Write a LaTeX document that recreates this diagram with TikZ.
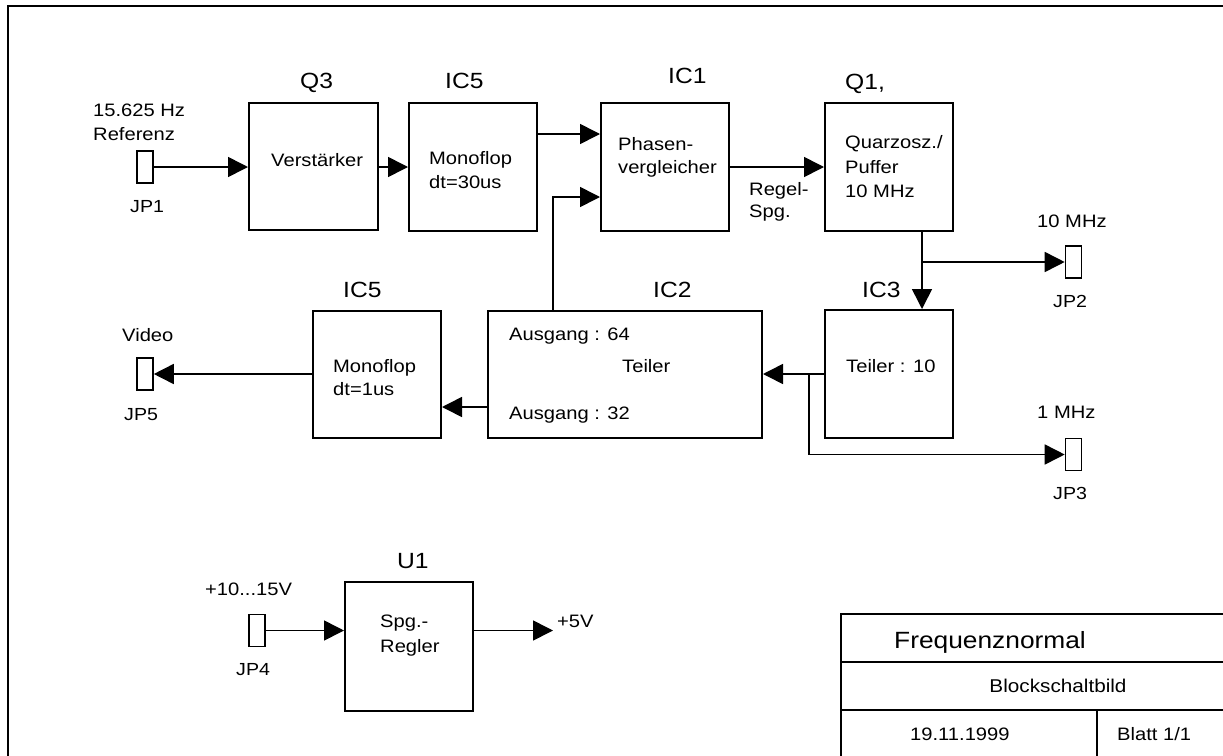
\documentclass[tikz,border=0pt]{standalone}
\usepackage{fontspec}
\setmainfont{Liberation Sans}[FakeStretch=1.12]
\usetikzlibrary{arrows.meta}
\tikzset{
  blk/.style={draw, line width=2pt, inner sep=0pt, minimum width=128pt, minimum height=128pt},
  jp/.style={draw, line width=1.6pt, inner sep=0pt, minimum width=16pt, minimum height=32pt},
  con/.style={line width=1.6pt},
  arr/.style={con, -{Triangle[length=20pt,width=20pt]}},
  txt/.style={anchor=base west, inner sep=0pt, font=\fontsize{18}{22}\selectfont},
  lbl/.style={anchor=base west, inner sep=0pt, font=\fontsize{22}{26}\selectfont},
  jpl/.style={anchor=base west, inner sep=0pt, font=\fontsize{17.5}{21}\selectfont},
}
\begin{document}
\begin{tikzpicture}[x=1pt,y=-1pt]
\useasboundingbox (0,0) rectangle (1223,755);
\clip (0,0) rectangle (1223,755);
\fill[white] (0,0) rectangle (1223,755);
% frame
\draw[line width=2.2pt] (8,6) rectangle (1260,790);

% blocks
\node[blk, minimum width=129pt, minimum height=127pt] (q3) at (313.5,166.5) {};
\node[blk] (ic5a) at (473,167) {};
\node[blk] (ic1) at (665,167) {};
\node[blk] (q1) at (889,167) {};
\node[blk] (ic3) at (889,374) {};
\node[blk, minimum width=274pt, minimum height=127pt] (ic2) at (625,374.5) {};
\node[blk, minimum height=127pt] (ic5b) at (377,374.5) {};
\node[blk, minimum height=129pt] (u1) at (409,646.5) {};

% connectors (jumpers)
\node[jp] (jp1) at (145,167) {};
\node[jp] (jp2) at (1073.5,262) {};
\node[jp] (jp3) at (1073.5,454.5) {};
\node[jp] (jp5) at (145,374) {};
\node[jp] (jp4) at (257,630.5) {};

% helper coordinates
\coordinate (fb) at (553,197);
\coordinate (j1) at (922,262);
\coordinate (j2) at (809,374);
\coordinate (out5) at (553,630.5);

% connectors
\draw[arr] (jp1.east) -- (jp1.east -| q3.west);
\draw[arr] (q3.east |- jp1.east) -- (ic5a.west);
\draw[arr] ([yshift=33pt]ic5a.east) -- ([yshift=33pt]ic5a.east -| ic1.west);
\draw[arr] (fb |- ic2.north) -- (fb) -- (fb -| ic1.west);
\draw[arr] (ic1.east) -- (q1.west);
\draw[arr] (j1 |- q1.south) -- (j1 |- ic3.north);
\draw[arr] (j1) -- (jp2.west);
\draw[arr] (ic3.west) -- (ic3.west -| ic2.east);
\draw[arr] (j2) -- (j2 |- jp3.west) -- (jp3.west);
\draw[arr] ([yshift=-32.5pt]ic2.west) -- ([yshift=-32.5pt]ic2.west -| ic5b.east);
\draw[arr] (ic5b.west |- jp5.east) -- (jp5.east);
\draw[arr] (jp4.east) -- (jp4.east -| u1.west);
\draw[arr] (jp4.east -| u1.east) -- (out5);

% title block
\draw[line width=1.8pt] (841,614) rectangle (1260,790);
\draw[line width=1.8pt] (841,662) -- (1260,662);
\draw[line width=1.8pt] (841,710) -- (1260,710);
\draw[line width=1.8pt] (1097,710) -- (1097,790);

% labels above blocks
\node[lbl] (lq3) at (300,88) {Q3};
\node[lbl] (lic5a) at (445,88) {IC5};
\node[lbl] (lic1) at (668,83) {IC1};
\node[lbl] (lq1) at (845,89) {Q1,};
\node[lbl] (lic5b) at (343,297) {IC5};
\node[lbl] (lic2) at (653,297) {IC2};
\node[lbl] (lic3) at (862,297) {IC3};
\node[lbl] (lu1) at (397,568) {U1};

% block texts
\node[txt] (t1) at (271,166) {Verstärker};
\node[txt] (t2) at (429,164) {Monoflop};
\node[txt] (t3) at (429,188) {dt=30us};
\node[txt] (t4) at (618,150) {Phasen-};
\node[txt] (t5) at (618,173) {vergleicher};
\node[txt] (t6) at (845,148) {Quarzosz./};
\node[txt] (t7) at (845,173) {Puffer};
\node[txt] (t8) at (845,197) {10 MHz};
\node[txt] (t9) at (509,340) {Ausgang : 64};
\node[txt] (t10) at (622,372) {Teiler};
\node[txt] (t11) at (509,419) {Ausgang : 32};
\node[txt] (t12) at (846,372) {Teiler : 10};
\node[txt] (t13) at (333,372) {Monoflop};
\node[txt] (t14) at (333,395) {dt=1us};
\node[txt] (t15) at (380,627) {Spg.-};
\node[txt] (t16) at (380,652) {Regler};

% signal texts
\node[txt] (s1) at (93,116) {15.625 Hz};
\node[txt] (s2) at (93,140) {Referenz};
\node[txt] (s3) at (749,195) {Regel-};
\node[txt] (s4) at (749,217) {Spg.};
\node[txt] (s5) at (1037,227) {10 MHz};
\node[txt] (s6) at (1037,418) {1 MHz};
\node[txt] (s7) at (122,341) {Video};
\node[txt] (s8) at (205,595) {+10...15V};
\node[txt] (s9) at (557,627) {+5V};

% jumper names
\node[jpl] (n1) at (130,212) {JP1};
\node[jpl] (n2) at (1053,307) {JP2};
\node[jpl] (n3) at (1053,499) {JP3};
\node[jpl] (n5) at (124,420) {JP5};
\node[jpl] (n4) at (236,675) {JP4};

% title block texts
\node[anchor=base west, inner sep=0pt, font=\fontsize{23.5}{28}\selectfont] (tb1) at (894,648) {Frequenznormal};
\node[anchor=base, inner sep=0pt, font=\fontsize{18.5}{22}\selectfont] (tb2) at (1058,692) {Blockschaltbild};
\node[txt] (tb3) at (910,740) {19.11.1999};
\node[txt] (tb4) at (1117,740) {Blatt 1/1};
\end{tikzpicture}
\end{document}
